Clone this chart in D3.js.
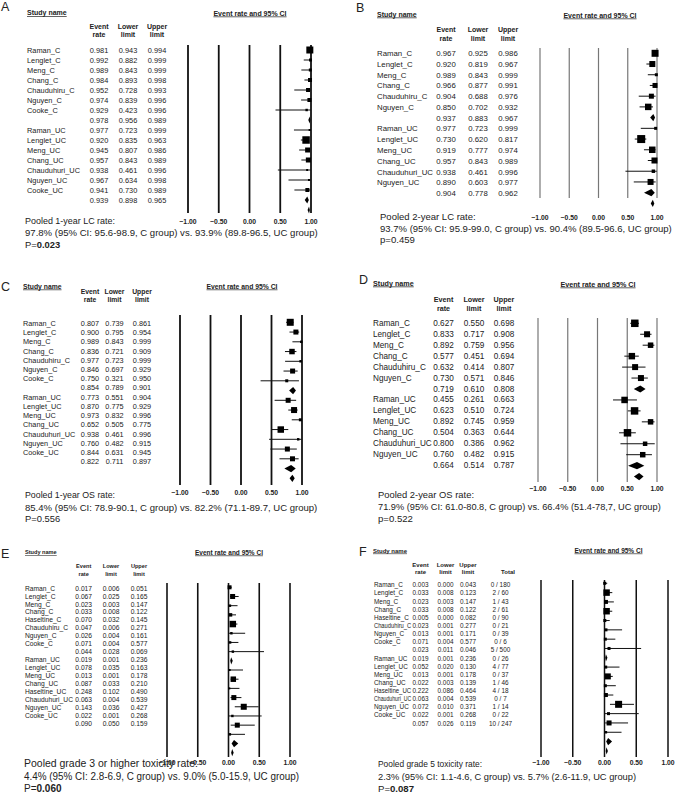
<!DOCTYPE html>
<html lang="en">
<head>
<meta charset="utf-8">
<title>Pooled event rates - forest plots</title>
<style>
    body { margin: 0; background: #fff; }
    svg text { font-family: Arial, "Liberation Sans", sans-serif; fill: #222; }
</style>
</head>
<body>
<script src="https://cdn.jsdelivr.net/npm/d3@7"></script>
<script>

    // ---- data ----
    // "" = pooled row (diamond); weight 0 = pooled
    var namesA = ["Raman_C", "Lenglet_C", "Meng_C", "Chang_C", "Chauduhiru_C", "Nguyen_C", "Cooke_C", "",
        "Raman_UC", "Lenglet_UC", "Meng_UC", "Chang_UC", "Chauduhuri_UC", "Nguyen_UC", "Cooke_UC", ""];
    var rateA = [0.981, 0.992, 0.989, 0.984, 0.952, 0.974, 0.929, 0.978, 0.977, 0.920, 0.945, 0.957, 0.938, 0.967, 0.941, 0.939];
    var lowerA = [0.943, 0.882, 0.843, 0.893, 0.728, 0.839, 0.423, 0.956, 0.723, 0.835, 0.807, 0.843, 0.461, 0.634, 0.730, 0.898];
    var upperA = [0.994, 0.999, 0.999, 0.998, 0.993, 0.996, 0.996, 0.989, 0.999, 0.963, 0.986, 0.989, 0.996, 0.998, 0.989, 0.965];
    var weightA = [49, 9, 9, 16, 16, 16, 6, 0, 4, 56, 25, 25, 4, 4, 16, 0];
    var overallA = [0.968, 0.944, 0.982];

    var namesB = ["Raman_C", "Lenglet_C", "Meng_C", "Chang_C", "Chauduhiru_C", "Nguyen_C", "",
        "Raman_UC", "Lenglet_UC", "Meng_UC", "Chang_UC", "Chauduhuri_UC", "Nguyen_UC", ""];
    var rateB = [0.967, 0.920, 0.989, 0.966, 0.904, 0.850, 0.937, 0.977, 0.730, 0.919, 0.957, 0.938, 0.890, 0.904];
    var lowerB = [0.925, 0.819, 0.843, 0.877, 0.688, 0.702, 0.883, 0.723, 0.620, 0.777, 0.843, 0.461, 0.603, 0.778];
    var upperB = [0.986, 0.967, 0.999, 0.991, 0.976, 0.932, 0.967, 0.999, 0.817, 0.974, 0.989, 0.996, 0.977, 0.962];
    var weightB = [49, 36, 9, 25, 25, 42, 0, 9, 64, 42, 36, 12, 36, 0];
    var overallB = [0.929, 0.893, 0.954];

    var namesC = ["Raman_C", "Lenglet_C", "Meng_C", "Chang_C", "Chauduhiru_C", "Nguyen_C", "Cooke_C", "",
        "Raman_UC", "Lenglet_UC", "Meng_UC", "Chang_UC", "Chauduhuri_UC", "Nguyen_UC", "Cooke_UC", ""];
    var rateC = [0.807, 0.900, 0.989, 0.836, 0.977, 0.846, 0.750, 0.854, 0.773, 0.870, 0.973, 0.652, 0.938, 0.760, 0.844, 0.822];
    var lowerC = [0.739, 0.795, 0.843, 0.721, 0.723, 0.697, 0.321, 0.789, 0.551, 0.775, 0.832, 0.505, 0.461, 0.482, 0.631, 0.711];
    var upperC = [0.861, 0.954, 0.999, 0.909, 0.999, 0.929, 0.950, 0.901, 0.904, 0.929, 0.996, 0.775, 0.996, 0.915, 0.945, 0.897];
    var weightC = [49, 25, 6, 30, 6, 25, 9, 0, 25, 36, 9, 42, 6, 25, 25, 0];
    var overallC = [0.843, 0.796, 0.881];

    var namesD = ["Raman_C", "Lenglet_C", "Meng_C", "Chang_C", "Chauduhiru_C", "Nguyen_C", "",
        "Raman_UC", "Lenglet_UC", "Meng_UC", "Chang_UC", "Chauduhuri_UC", "Nguyen_UC", ""];
    var rateD = [0.627, 0.833, 0.892, 0.577, 0.632, 0.730, 0.719, 0.455, 0.623, 0.892, 0.504, 0.800, 0.760, 0.664];
    var lowerD = [0.550, 0.717, 0.759, 0.451, 0.414, 0.571, 0.610, 0.261, 0.510, 0.745, 0.363, 0.386, 0.482, 0.514];
    var upperD = [0.698, 0.908, 0.956, 0.694, 0.807, 0.846, 0.808, 0.663, 0.724, 0.959, 0.644, 0.962, 0.915, 0.787];
    var weightD = [56, 36, 30, 42, 36, 36, 0, 42, 56, 30, 56, 20, 30, 0];
    var overallD = [0.700, 0.612, 0.774];

    var namesE = ["Raman_C", "Lenglet_C", "Meng_C", "Chang_C", "Haseltine_C", "Chauduhiru_C", "Nguyen_C", "Cooke_C", "",
        "Raman_UC", "Lenglet_UC", "Meng_UC", "Chang_UC", "Haseltine_UC", "Chauduhuri_UC", "Nguyen_UC", "Cooke_UC", ""];
    var rateE = [0.017, 0.067, 0.023, 0.033, 0.070, 0.047, 0.026, 0.071, 0.044, 0.019, 0.078, 0.013, 0.087, 0.248, 0.063, 0.143, 0.022, 0.090];
    var lowerE = [0.006, 0.025, 0.003, 0.008, 0.032, 0.006, 0.004, 0.004, 0.028, 0.001, 0.035, 0.001, 0.033, 0.102, 0.004, 0.036, 0.001, 0.050];
    var upperE = [0.051, 0.165, 0.147, 0.122, 0.145, 0.271, 0.161, 0.577, 0.069, 0.236, 0.163, 0.178, 0.210, 0.490, 0.539, 0.427, 0.268, 0.159];
    var weightE = [16, 25, 6, 12, 42, 6, 6, 6, 0, 4, 30, 4, 25, 36, 6, 25, 6, 0];
    var overallE = [0.060, 0.043, 0.084];

    var namesF = ["Raman_C", "Lenglet_C", "Meng_C", "Chang_C", "Haseltine_C", "Chauduhiru_C", "Nguyen_C", "Cooke_C", "",
        "Raman_UC", "Lenglet_UC", "Meng_UC", "Chang_UC", "Haseltine_UC", "Chauduhuri_UC", "Nguyen_UC", "Cooke_UC", ""];
    var rateF = [0.003, 0.033, 0.023, 0.033, 0.005, 0.023, 0.013, 0.071, 0.023, 0.019, 0.052, 0.013, 0.022, 0.222, 0.063, 0.072, 0.022, 0.057];
    var lowerF = [0.000, 0.008, 0.003, 0.008, 0.000, 0.001, 0.001, 0.004, 0.011, 0.001, 0.020, 0.001, 0.003, 0.086, 0.004, 0.010, 0.001, 0.026];
    var upperF = [0.043, 0.123, 0.147, 0.122, 0.082, 0.277, 0.171, 0.577, 0.046, 0.236, 0.130, 0.178, 0.139, 0.464, 0.539, 0.371, 0.268, 0.119];
    var totalF = ["0 / 180", "2 / 60", "1 / 43", "2 / 61", "0 / 90", "0 / 21", "0 / 39", "0 / 6", "5 / 500",
        "0 / 26", "4 / 77", "0 / 37", "1 / 46", "4 / 18", "0 / 7", "1 / 14", "0 / 22", "10 / 247"];
    var weightF = [9, 42, 16, 42, 9, 9, 9, 9, 0, 9, 36, 9, 16, 49, 9, 25, 6, 0];
    var overallF = [0.032, 0.019, 0.053];

    var axisTicks = [-1, -0.5, 0, 0.5, 1];

    var summaryA = ["Pooled 1-year LC rate:", "97.8% (95% CI: 95.6-98.9, C group) vs. 93.9% (89.8-96.5, UC group)", "P=", "0.023"];
    var summaryB = ["Pooled 2-year LC rate:", "93.7% (95% CI: 95.9-99.0, C group) vs. 90.4% (89.5-96.6, UC group)", "p=0.459", ""];
    var summaryC = ["Pooled 1-year OS rate:", "85.4% (95% CI: 78.9-90.1, C group) vs. 82.2% (71.1-89.7, UC group)", "P=0.556", ""];
    var summaryD = ["Pooled 2-year OS rate:", "71.9% (95% CI: 61.0-80.8, C group) vs. 66.4% (51.4-78,7, UC group)", "p=0.522", ""];
    var summaryE = ["Pooled grade 3 or higher toxicity rate:", "4.4% (95% CI: 2.8-6.9, C group) vs. 9.0% (5.0-15.9, UC group)", "P=", "0.060"];
    var summaryF = ["Pooled grade 5 toxicity rate:", "2.3% (95% CI: 1.1-4.6, C group) vs. 5.7% (2.6-11.9, UC group)", "P=", "0.087"];

    // ---- drawing ----
    var svg = d3.select("body").append("svg")
        .attr("width", 677)
        .attr("height", 797);

    var fmt = d3.format(".3f"),
        tickFmt = d3.format(".2f");
    var boxSize = d3.scaleSqrt().domain([0, 100]).range([0, 10]);

    function drawPanel(p) {
        var g = svg.append("g");
        var n = p.names.length;

        g.append("text")
            .attr("x", p.letter[0]).attr("y", p.letter[1])
            .style("font-size", "12.5px")
            .text(p.id);

        g.append("text")
            .attr("x", p.study[0]).attr("y", p.study[1])
            .style("font-size", p.hfs + "px")
            .style("font-weight", "bold")
            .style("text-decoration", "underline")
            .text("Study name");

        g.append("text")
            .attr("x", p.head[0]).attr("y", p.head[1])
            .attr("text-anchor", "middle")
            .style("font-size", p.headFs + "px")
            .style("font-weight", "bold")
            .style("text-decoration", "underline")
            .text("Event rate and 95% CI");

        var hdr = [["Event", "rate"], ["Lower", "limit"], ["Upper", "limit"]];
        if (p.total) hdr.push(["", "Total"]);
        hdr.forEach(function (h, j) {
            var cx = (j === 3) ? p.totalHdrX : p.cols[j];
            h.forEach(function (s, k) {
                g.append("text")
                    .attr("x", cx).attr("y", p.hdrY[k])
                    .attr("text-anchor", "middle")
                    .style("font-size", p.hfs + "px")
                    .style("font-weight", "bold")
                    .text(s);
            });
        });

        var rows = p.names.map(function (name, i) {
            return {
                i: i, name: name, rate: p.rate[i], lower: p.lower[i], upper: p.upper[i],
                w: p.weight[i], total: p.total ? p.total[i] : null
            };
        });

        // table
        var ty = d3.scaleLinear().domain([0, 1]).range([p.row0, p.row0 + p.step]);
        var row = g.selectAll(".row" + p.id)
            .data(rows)
            .enter()
            .append("g")
            .attr("transform", function (d) {
                return "translate(0," + ty(d.i) + ")";
            })
            .style("font-size", p.fs + "px");
        // names squeezed if they would run into the first number column
        var maxName = p.cols[0] - 1.3 * p.fs - p.nameX - 1;
        row.append("text")
            .attr("x", p.nameX).attr("dy", "0.35em")
            .text(function (d) { return d.name; })
            .each(function () {
                if (this.getComputedTextLength() > maxName) {
                    d3.select(this).attr("textLength", maxName).attr("lengthAdjust", "spacingAndGlyphs");
                }
            });
        ["rate", "lower", "upper"].forEach(function (key, j) {
            row.append("text")
                .attr("x", p.cols[j]).attr("dy", "0.35em")
                .attr("text-anchor", "middle")
                .text(function (d) { return fmt(d[key]); });
        });
        if (p.total) {
            row.append("text")
                .attr("x", p.cols[3]).attr("dy", "0.35em")
                .attr("text-anchor", "middle")
                .text(function (d) { return d.total; });
        }

        // plot
        var x = d3.scaleLinear().domain([-1, 1]).range(p.xr);
        var py = d3.scaleLinear().domain([0, 1]).range([p.plot0, p.plot0 + p.plotStep]);

        g.selectAll(".grid" + p.id)
            .data(axisTicks)
            .enter()
            .append("line")
            .attr("x1", x).attr("x2", x)
            .attr("y1", p.lineY[0]).attr("y2", p.lineY[1])
            .attr("stroke", p.lineColor)
            .attr("stroke-width", p.lineWidth);

        g.selectAll(".tick" + p.id)
            .data(axisTicks)
            .enter()
            .append("text")
            .attr("x", x).attr("y", p.tickY)
            .attr("text-anchor", "middle")
            .style("font-size", "6.8px")
            .style("font-weight", "bold")
            .text(tickFmt);

        var plotRows = rows.concat([{
            i: n, rate: p.overall[0], lower: p.overall[1], upper: p.overall[2], w: 0
        }]);

        var studies = plotRows.filter(function (d) { return d.w > 0; });
        var pooled = plotRows.filter(function (d) { return d.w === 0; });

        g.selectAll(".ci" + p.id)
            .data(studies)
            .enter()
            .append("line")
            .attr("x1", function (d) { return x(d.lower); })
            .attr("x2", function (d) { return x(d.upper); })
            .attr("y1", function (d) { return py(d.i); })
            .attr("y2", function (d) { return py(d.i); })
            .attr("stroke", "#111")
            .attr("stroke-width", 1);

        g.selectAll(".box" + p.id)
            .data(studies)
            .enter()
            .append("rect")
            .attr("x", function (d) { return x(d.rate) - boxSize(d.w) / 2; })
            .attr("y", function (d) { return py(d.i) - boxSize(d.w) / 2; })
            .attr("width", function (d) { return boxSize(d.w); })
            .attr("height", function (d) { return boxSize(d.w); })
            .attr("fill", "#000");

        g.selectAll(".dia" + p.id)
            .data(pooled)
            .enter()
            .append("path")
            .attr("d", function (d) {
                var y = py(d.i), h = 3.6;
                return "M" + x(d.lower) + "," + y + "L" + x(d.rate) + "," + (y - h) +
                    "L" + x(d.upper) + "," + y + "L" + x(d.rate) + "," + (y + h) + "Z";
            })
            .attr("fill", "#000");

        // summary text
        g.append("text")
            .attr("x", p.textX).attr("y", p.textY[0])
            .attr("textLength", p.tlen[0]).attr("lengthAdjust", "spacingAndGlyphs")
            .style("font-size", p.tfs + "px")
            .text(p.summary[0]);
        g.append("text")
            .attr("x", p.textX).attr("y", p.textY[1])
            .attr("textLength", p.tlen[1]).attr("lengthAdjust", "spacingAndGlyphs")
            .style("font-size", p.tfs + "px")
            .text(p.summary[1]);
        var t3 = g.append("text")
            .attr("x", p.textX).attr("y", p.textY[2])
            .style("font-size", p.tfs + "px");
        t3.append("tspan").text(p.summary[2]);
        t3.append("tspan").style("font-weight", "bold").text(p.summary[3]);
    }

    drawPanel({
        id: "A", names: namesA, rate: rateA, lower: lowerA, upper: upperA, weight: weightA, overall: overallA, summary: summaryA,
        letter: [1, 11], study: [27, 15.2], head: [250, 15.5], hdrY: [28.5, 36.8], hfs: 7, headFs: 7,
        nameX: 27, cols: [99, 128, 157], row0: 50, step: 10, fs: 7.4,
        xr: [188, 311], lineY: [45, 213], tickY: 223.5, plot0: 50, plotStep: 10,
        lineColor: "#111", lineWidth: 1.8,
        textX: 25, textY: [224.3, 236.3, 248.3], tlen: [90, 292.7], tfs: 9.4
    });

    drawPanel({
        id: "B", names: namesB, rate: rateB, lower: lowerB, upper: upperB, weight: weightB, overall: overallB, summary: summaryB,
        letter: [356, 12], study: [377, 16.5], head: [600, 17.5], hdrY: [31.5, 40.5], hfs: 7, headFs: 7,
        nameX: 377, cols: [446, 478, 508], row0: 53.3, step: 10.77, fs: 7.8,
        xr: [540, 657], lineY: [48, 198], tickY: 219.5, plot0: 53.3, plotStep: 10.72,
        lineColor: "#777", lineWidth: 1.2,
        textX: 380, textY: [220, 231.6, 242.6], tlen: [95.7, 291.7], tfs: 9.6
    });

    drawPanel({
        id: "C", names: namesC, rate: rateC, lower: lowerC, upper: upperC, weight: weightC, overall: overallC, summary: summaryC,
        letter: [1, 291], study: [23, 288.5], head: [242, 288.5], hdrY: [293.5, 301.5], hfs: 6.8, headFs: 6.8,
        nameX: 23, cols: [90, 114.5, 142], row0: 323.3, step: 9.22, fs: 7.3,
        xr: [180, 302], lineY: [315, 485], tickY: 494.5, plot0: 322.3, plotStep: 9.75,
        lineColor: "#111", lineWidth: 1.8,
        textX: 25, textY: [498.3, 510.6, 522.3], tlen: [90, 292.3], tfs: 9.4
    });

    drawPanel({
        id: "D", names: namesD, rate: rateD, lower: lowerD, upper: upperD, weight: weightD, overall: overallD, summary: summaryD,
        letter: [359, 283.5], study: [373, 285.5], head: [598, 286.5], hdrY: [301.8, 310.8], hfs: 7.2, headFs: 7.2,
        nameX: 373, cols: [443.5, 474, 504], row0: 323.3, step: 10.9, fs: 8.2,
        xr: [538, 657], lineY: [318, 482], tickY: 490.5, plot0: 323.3, plotStep: 10.95,
        lineColor: "#777", lineWidth: 1.2,
        textX: 378, textY: [498.3, 510, 521.6], tlen: [96, 282.7], tfs: 9.6
    });

    drawPanel({
        id: "E", names: namesE, rate: rateE, lower: lowerE, upper: upperE, weight: weightE, overall: overallE, summary: summaryE,
        letter: [1, 558], study: [25, 554], head: [229, 554.5], hdrY: [568, 575.5], hfs: 5.6, headFs: 6.5,
        nameX: 25, cols: [83.7, 111, 139], row0: 588.3, step: 7.94, fs: 6.7,
        xr: [167, 290], lineY: [583, 757], tickY: 764.5, plot0: 587.3, plotStep: 9.19,
        lineColor: "#111", lineWidth: 1.6,
        textX: 24, textY: [766.5, 780, 791.6], tlen: [174, 275], tfs: 10
    });

    drawPanel({
        id: "F", names: namesF, rate: rateF, lower: lowerF, upper: upperF, weight: weightF, overall: overallF, summary: summaryF,
        total: totalF, totalHdrX: 508,
        letter: [359, 556], study: [373, 552.5], head: [608.5, 552.5], hdrY: [566.5, 574], hfs: 6, headFs: 6.5,
        nameX: 374, cols: [420.5, 445.5, 468, 500.5], row0: 585, step: 8.14, fs: 6.4,
        xr: [541, 668], lineY: [580, 757], tickY: 764.5, plot0: 583.3, plotStep: 9.31,
        lineColor: "#111", lineWidth: 1.5,
        textX: 378, textY: [766.5, 780, 791.6], tlen: [104, 258], tfs: 9.6
    });

</script>
</body>
</html>
